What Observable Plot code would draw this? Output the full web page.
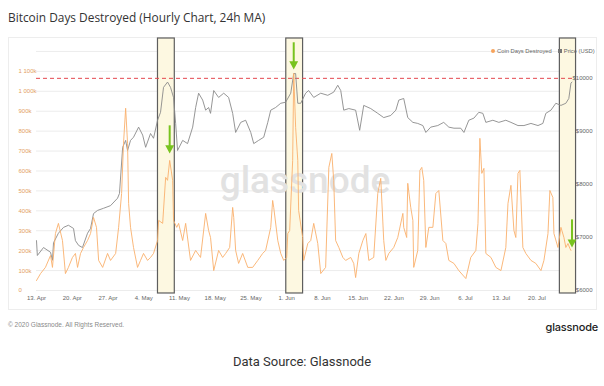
<!DOCTYPE html>
<html><head><meta charset="utf-8">
<script src="https://cdn.jsdelivr.net/npm/d3@7"></script>
<script src="https://cdn.jsdelivr.net/npm/@observablehq/plot@0.6"></script>
<style>
body{margin:0;background:#fff;width:604px;height:386px;position:relative;overflow:hidden;font-family:"Open Sans",sans-serif;}
#title{position:absolute;left:8px;top:9px;font-size:11.9px;color:#333;white-space:nowrap;}
#card{position:absolute;left:8px;top:37px;width:589px;height:273px;border:1px solid #ededed;box-sizing:border-box;}
#chart{position:absolute;left:0;top:30px;}
#legend{position:absolute;top:48px;left:491px;font-size:5.8px;color:#666;white-space:nowrap;font-family:"Liberation Sans",sans-serif;}
#legend .dot{display:inline-block;width:4px;height:4px;border-radius:50%;background:#f7a35c;margin-right:2px;vertical-align:middle;}
#legend .sq{display:inline-block;width:4px;height:4px;background:#777;margin:0 2px 0 6px;vertical-align:middle;}
#copy{position:absolute;left:8px;top:321px;font-size:6.5px;color:#8a8a8a;font-family:"Liberation Sans",sans-serif;}
#logo{position:absolute;right:6px;top:320px;font-size:11px;color:#222;font-family:"Inter",sans-serif;font-weight:500;letter-spacing:-0.2px;}
#source{position:absolute;left:0;width:604px;top:354px;text-align:center;font-size:13px;color:#333;font-family:"Roboto",sans-serif;}
</style></head>
<body>
<div id="title">Bitcoin Days Destroyed (Hourly Chart, 24h MA)</div>
<div id="card"></div>
<div id="chart"></div>
<div id="legend"><span class="dot"></span>Coin Days Destroyed<span class="sq"></span>Price (USD)</div>
<div id="copy">© 2020 Glassnode. All Rights Reserved.</div>
<div id="logo">glassnode</div>
<div id="source">Data Source: Glassnode</div>
<script>
const YEAR = "2020";
// Coin Days Destroyed (24h MA), thousands
const cddDates = [
"04-13 00","04-13 19","04-14 18","04-15 18","04-16 03","04-16 17","04-17 07","04-18 02","04-18 16","04-19 06",
"04-20 01","04-20 15","04-21 01","04-21 15","04-22 05","04-23 00","04-23 14","04-24 04","04-24 18","04-25 04",
"04-25 23","04-26 22","04-27 12","04-28 12","04-29 02","04-29 16","04-30 01","04-30 11","04-30 20","05-01 01",
"05-01 10","05-02 00","05-02 19","05-03 09","05-03 23","05-04 18","05-05 08","05-05 22","05-06 17","05-06 22",
"05-07 17","05-08 07","05-08 16","05-09 02","05-09 16","05-09 20","05-10 11","05-10 20","05-11 15","05-12 05",
"05-13 04","05-14 04","05-15 03","05-16 03","05-16 17","05-17 02","05-17 17","05-18 16","05-19 11","05-20 01",
"05-20 20","05-21 10","05-21 15","05-22 00","05-22 14","05-23 09","05-24 09","05-25 08","05-26 08","05-27 07",
"05-27 21","05-28 21","05-29 06","05-29 11","05-30 06","05-30 20","05-31 10","06-01 00","06-01 05","06-01 14",
"06-02 04","06-02 09","06-02 18","06-03 04","06-03 08","06-04 03","06-04 08","06-05 03","06-05 17","06-06 07",
"06-07 02","06-07 16","06-08 15","06-09 06","06-09 20","06-10 05","06-10 14","06-11 05","06-12 00","06-12 13",
"06-13 13","06-14 03","06-14 12","06-15 03","06-15 22","06-16 12","06-17 02","06-18 01","06-18 20","06-19 10",
"06-20 00","06-20 10","06-21 00","06-21 23","06-22 18","06-23 18","06-23 22","06-24 12","06-24 17","06-25 07",
"06-25 17","06-25 21","06-26 16","06-27 02","06-27 11","06-27 20","06-28 06","06-28 20","06-29 15","06-30 05",
"06-30 19","07-01 14","07-02 04","07-02 18","07-03 18","07-04 17","07-06 02","07-07 01","07-08 01","07-08 11",
"07-08 20","07-09 05","07-09 15","07-10 00","07-11 00","07-11 23","07-12 23","07-13 22","07-14 08","07-14 22",
"07-15 12","07-15 21","07-16 07","07-16 16","07-17 06","07-17 20","07-18 20","07-19 19","07-20 19","07-21 09",
"07-22 04","07-22 13","07-23 03","07-23 08","07-24 03","07-24 17","07-25 07","07-25 16","07-26 02","07-26 11",
"07-26 16"];
const cddValues = [
50,85,116,176,116,286,337,251,85,116,
166,186,116,186,216,251,286,367,317,151,
116,186,151,186,317,487,739,915,739,437,
317,216,116,151,186,151,166,186,251,352,
337,568,553,653,553,352,317,337,251,337,
151,201,166,387,301,266,100,201,166,186,
216,417,367,201,136,186,116,116,151,186,
201,317,452,417,251,186,151,166,286,301,
653,1090,819,653,402,266,151,236,251,337,
236,85,116,618,688,553,251,216,166,151,
166,136,65,186,251,286,151,166,487,563,
251,151,186,216,266,387,317,266,538,417,
352,116,201,603,618,553,216,317,317,487,
502,251,236,151,136,100,60,166,201,337,
764,588,613,186,166,116,100,216,437,528,
301,266,588,603,216,186,151,136,100,151,
286,502,467,286,216,317,266,216,236,211,
201];
// Price (USD)
const priceDates = [
"04-13 00","04-13 04","04-14 09","04-15 18","04-16 03","04-16 08","04-17 07","04-18 07","04-19 06","04-20 06",
"04-20 15","04-21 06","04-22 00","04-23 00","04-23 14","04-24 04","04-24 23","04-26 03","04-27 12","04-28 21",
"04-29 06","04-29 21","04-30 11","04-30 20","05-01 10","05-02 00","05-03 00","05-03 19","05-04 09","05-05 08",
"05-05 22","05-06 17","05-07 07","05-07 21","05-08 16","05-09 06","05-09 20","05-10 06","05-10 15","05-11 15",
"05-12 14","05-13 14","05-14 04","05-14 18","05-15 13","05-16 03","05-16 17","05-17 02","05-17 17","05-18 16",
"05-19 16","05-20 15","05-21 10","05-22 00","05-23 00","05-23 23","05-24 23","05-25 13","05-26 12","05-27 12",
"05-28 07","05-28 21","05-29 20","05-30 20","05-31 19","06-01 19","06-02 09","06-02 18","06-03 04","06-03 18",
"06-04 17","06-05 07","06-06 07","06-07 16","06-09 01","06-10 05","06-11 00","06-11 14","06-12 04","06-13 04",
"06-14 12","06-15 07","06-16 02","06-17 11","06-18 20","06-20 00","06-21 09","06-22 09","06-22 23","06-23 22",
"06-24 17","06-25 17","06-26 16","06-27 16","06-28 06","06-29 05","06-30 14","07-01 18","07-02 18","07-03 18",
"07-05 02","07-05 17","07-06 16","07-07 16","07-08 15","07-09 10","07-10 00","07-11 09","07-12 13","07-13 22",
"07-14 22","07-16 07","07-17 11","07-18 20","07-20 05","07-21 04","07-21 18","07-22 18","07-23 17","07-24 17",
"07-25 16","07-26 06","07-26 16","07-26 21"];
const priceValues = [
6940,6660,6810,6720,6570,6900,7080,7190,7230,7170,
6940,6850,6810,7080,7170,7450,7510,7550,7600,7740,
7830,8700,8830,8640,8830,8890,9080,8930,8700,8960,
8870,9210,9360,9830,9930,9830,9640,9150,8640,8830,
8770,9080,9450,9720,9590,9400,9450,9340,9770,9640,
9720,9640,9340,8980,9170,9210,8980,8770,8830,8890,
9170,9400,9450,9530,9550,9720,10090,10090,9530,9530,
9720,9770,9640,9720,9680,9740,9870,9770,9400,9430,
9400,9020,9490,9430,9340,9260,9300,9400,9590,9620,
9260,9170,9150,9110,8980,9080,9110,9170,9080,9060,
9060,8980,9210,9250,9360,9340,9170,9210,9170,9210,
9170,9110,9110,9150,9110,9150,9340,9400,9530,9490,
9530,9620,9910,9930];
// axes
const cddTicks = [0,100,200,300,400,500,600,700,800,900,1000,1100];
const gridTicks = [0,100,200,300,400,500,600,700,800,900,1000,1100,1200];
const priceTicks = [6000,7000,8000,9000,10000];
const xTickDates = ["04-13 00","04-20 00","04-27 00","05-04 00","05-11 00","05-18 00","05-25 00","06-01 00","06-08 00","06-15 00","06-22 00","06-29 00","07-06 00","07-13 00","07-20 00"];
const xDomain = ["04-13 00","07-27 04"];
// annotations
const boxStarts = ["05-06 19","05-31 22","07-24 12"];
const boxEnds = ["05-10 02","06-04 05","07-27 16"];
const arrowDates = ["05-09 02","06-02 09","07-26 21"];
const arrowTops = [814, 1231, 342];   // CDD-axis units (k)
const arrowTips = [688, 1110, 216];
const athLevel = 10000;

// shared y: price mapped onto the CDD axis (price axis: $6000 at 0, $10000 at ~1065k)
const PRICE_BASE = 6000, K_PER_USD = 0.26625;
const toY = p => (p - PRICE_BASE) * K_PER_USD;

const parse = d3.utcParse("%Y-%m-%d %H");
const pd = s => parse(YEAR + "-" + s);
const cdd = cddDates.map((d, i) => ({date: pd(d), v: cddValues[i]}));
const price = priceDates.map((d, i) => ({date: pd(d), v: toY(priceValues[i])}));
const boxes = boxStarts.map((d, i) => ({x1: pd(d), x2: pd(boxEnds[i])}));
const arrows = arrowDates.map((d, i) => ({date: pd(d), top: arrowTops[i], tip: arrowTips[i]}));

const triDown = {draw(ctx, size) {
  const r = Math.sqrt(size / Math.PI);
  ctx.moveTo(-r * 1.3, -r * 1.2); ctx.lineTo(r * 1.3, -r * 1.2); ctx.lineTo(0, r * 1.2); ctx.closePath();
}};

const fmtK = d => d === 0 ? "0" : (d >= 1000 ? Math.floor(d / 1000) + " " + String(d % 1000).padStart(3, "0") : d) + "k";

const chart = Plot.plot({
  width: 604, height: 280,
  marginLeft: 36, marginRight: 31, marginTop: 8, marginBottom: 20,
  style: {fontFamily: "'Liberation Sans', sans-serif", background: "transparent"},
  x: {type: "utc", domain: xDomain.map(pd)},
  y: {domain: [0, 1265]},
  marks: [
    Plot.ruleY(gridTicks, {stroke: "#ececec", strokeWidth: 1}),
    Plot.rect(boxes, {x1: "x1", x2: "x2", y1: -15, y2: 1265, fill: "#fdf8e1", stroke: "#5e5e5e", strokeWidth: 1.2}),
    Plot.text(["glassnode"], {frameAnchor: "middle", dy: 17, fontSize: 37, fill: "#e2e2e2", fontFamily: "Roboto", fontWeight: 500, letterSpacing: "-0.8px"}),
    Plot.ruleY([toY(athLevel)], {stroke: "#e4484f", strokeWidth: 1, strokeDasharray: "4,3"}),
    Plot.line(price, {x: "date", y: "v", stroke: "#8a8a8a", strokeWidth: 0.9}),
    Plot.line(cdd, {x: "date", y: "v", stroke: "#f9b06c", strokeWidth: 0.9}),
    Plot.link(arrows, {x1: "date", x2: "date", y1: "top", y2: "tip", stroke: "#78c31e", strokeWidth: 2, dy: -3}),
    Plot.dot(arrows, {x: "date", y: "tip", symbol: triDown, r: 3.4, fill: "#78c31e", stroke: "none", dy: -4}),
    Plot.axisY(cddTicks, {anchor: "left", tickSize: 0, tickPadding: 0, textAnchor: "start", dx: -18, fontSize: 6, fill: "#e3a062", tickFormat: fmtK}),
    Plot.axisY(priceTicks.map(toY), {anchor: "right", tickSize: 0, tickPadding: 0, textAnchor: "end", dx: 19, fontSize: 6, fill: "#666", tickFormat: d => "$" + Math.round(d / K_PER_USD + PRICE_BASE)}),
    Plot.axisX(xTickDates.map(pd), {tickSize: 0, tickPadding: 5, fontSize: 6, fill: "#666", tickFormat: d3.utcFormat("%-d. %b")})
  ]
});
document.getElementById("chart").appendChild(chart);
</script>
</body></html>
